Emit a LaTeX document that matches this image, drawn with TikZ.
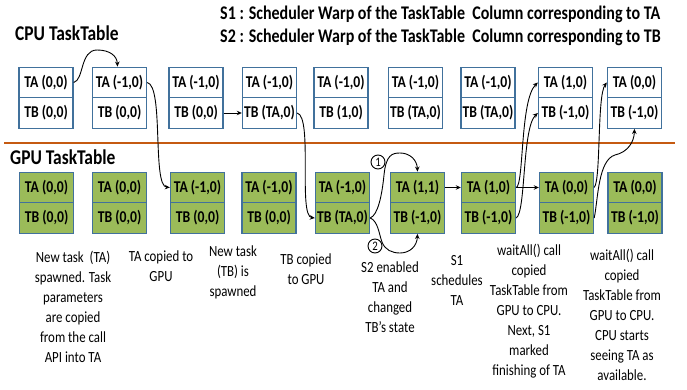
\documentclass[tikz,border=0pt]{standalone}
\usepackage{fontspec}
\setmainfont{Carlito}[FakeStretch=0.83]
\usetikzlibrary{arrows.meta,calc}
\definecolor{boxblue}{RGB}{65,113,156}
\definecolor{gpugreen}{RGB}{155,187,89}
\definecolor{sepbrown}{RGB}{197,90,17}
\newcommand{\tbox}[6]{%
  \node[#2] (#1a) at (#3,#4) {#5};
  \node[#2] (#1b) at (#3,#4+30.5) {#6};}
\begin{document}
\begin{tikzpicture}[x=1pt,y=-1pt,
  cell/.style={draw=boxblue, line width=1.4pt, minimum width=54pt, minimum height=30.5pt, inner sep=0pt,
    font=\bfseries\fontsize{16.5}{16.5}\selectfont},
  gcell/.style={cell, fill=gpugreen},
  conn/.style={line width=0.9pt, -{Stealth[length=5pt,width=4.5pt]}},
  head/.style={font=\bfseries\fontsize{21}{21}\selectfont, inner sep=0pt},
  legend/.style={font=\bfseries\fontsize{19.3}{19.3}\selectfont, inner sep=0pt, anchor=west},
  captext/.style={align=center, inner sep=0pt, font=\fontsize{15.5}{20}\selectfont},
  num/.style={circle, draw, line width=0.9pt, inner sep=0pt, minimum size=14pt, fill=white,
    font=\fontsize{13}{13}\selectfont}]
\useasboundingbox[fill=white] (0,0) rectangle (687,390);

% headers
\node[head, anchor=west] (cpuh) at (15,33) {CPU TaskTable};
\node[head, anchor=west] (gpuh) at (10,157) {GPU TaskTable};
\node[legend] (s1) at (220,14) {S1 : Scheduler Warp of the TaskTable\ \ Column corresponding to TA};
\node[legend] (s2) at (220,37) {S2 : Scheduler Warp of the TaskTable\ \ Column corresponding to TB};

% separator
\coordinate (sepL) at (4,143);
\coordinate (sepR) at (675,143);
\draw[sepbrown, line width=1.4pt] (sepL) -- (sepR);

% CPU tables
\tbox{c1}{cell}{46}{82.5}{TA (0,0)}{TB (0,0)}
\tbox{c2}{cell}{119.5}{82.5}{TA (-1,0)}{TB (0,0)}
\tbox{c3}{cell}{196}{82.5}{TA (-1,0)}{TB (0,0)}
\tbox{c4}{cell}{269.5}{82.5}{TA (-1,0)}{TB (TA,0)}
\tbox{c5}{cell}{341}{82.5}{TA (-1,0)}{TB (1,0)}
\tbox{c6}{cell}{415.5}{82.5}{TA (-1,0)}{TB (TA,0)}
\tbox{c7}{cell}{488}{82.5}{TA (-1,0)}{TB (TA,0)}
\tbox{c8}{cell}{565.5}{82.5}{TA (1,0)}{TB (-1,0)}
\tbox{c9}{cell}{634.5}{82.5}{TA (0,0)}{TB (-1,0)}

% GPU tables
\tbox{g1}{gcell}{46.5}{187.5}{TA (0,0)}{TB (0,0)}
\tbox{g2}{gcell}{119.5}{187.5}{TA (0,0)}{TB (0,0)}
\tbox{g3}{gcell}{197.5}{187.5}{TA (-1,0)}{TB (0,0)}
\tbox{g4}{gcell}{269}{187.5}{TA (-1,0)}{TB (0,0)}
\tbox{g5}{gcell}{342.5}{187.5}{TA (-1,0)}{TB (TA,0)}
\tbox{g6}{gcell}{417.5}{187.5}{TA (1,1)}{TB (-1,0)}
\tbox{g7}{gcell}{488.5}{187.5}{TA (1,0)}{TB (-1,0)}
\tbox{g8}{gcell}{566.5}{187.5}{TA (0,0)}{TB (-1,0)}
\tbox{g9}{gcell}{635}{187.5}{TA (0,0)}{TB (-1,0)}

% connectors
\draw[conn] (c1a.east) .. controls (84,80) and (80,50) .. (97,50) .. controls (110,50) and (117,56) .. ($(c2a.north)+(-2,0)$);
\draw[conn] (c2a.east) .. controls (164,86) and (152,186) .. (g3a.west);
\draw[conn] (c3b.east) -- (c4b.west);
\draw[conn] (c4b.east) .. controls (313,117) and (298,216) .. (g5b.west);
\draw[conn] (g5b.east) .. controls (378,215) and (382,195) .. (384,175) .. controls (386,155) and (392,153) .. (400,153) .. controls (410,153) and (417,160) .. (g6a.north);
\draw[conn] (g5b.east) .. controls (378,221) and (379,234) .. (382,242) .. controls (385,250) and (392,253) .. (400,253) .. controls (410,253) and (417,246) .. (g6b.south);
\draw[conn] (g6a.east) -- (g7a.west);
\draw[conn] (g7a.east) -- (g8a.west);
\draw[conn] (g7a.east) .. controls (524,185) and (520,100) .. (c8a.west);
\draw[conn] (g7b.east) .. controls (526,212) and (522,128) .. (c8b.west);
\draw[conn] (g8a.east) .. controls (601,180) and (597,96) .. (c9a.west);
\draw[conn] (g8b.east) .. controls (598,200) and (598,160) .. (615,155) .. controls (628,152) and (634,142) .. (c9b.south);

% numbered markers
\node[num] (n1) at (378,162) {1};
\node[num] (n2) at (375,246) {2};

% captions
\node[captext] (t1) at (73,307) {New task\ \ (TA)\\spawned. Task\\parameters\\are copied\\from the call\\API into TA};
\node[captext] (t2) at (161,266.5) {TA copied to\\GPU};
\node[captext] (t3) at (233,272) {New task\\(TB) is\\spawned};
\node[captext] (t4) at (306,269) {TB copied\\to GPU};
\node[captext] (t5) at (390,297) {S2 enabled\\TA and\\changed\\TB’s state};
\node[captext] (t6) at (457,280.5) {S1\\schedules\\TA};
\node[captext] (t7) at (529,311) {waitAll() call\\copied\\TaskTable from\\GPU to CPU.\\Next, S1\\marked\\finishing of TA};
\node[captext] (t8) at (622,315) {waitAll() call\\copied\\TaskTable from\\GPU to CPU.\\CPU starts\\seeing TA as\\available.};
\end{tikzpicture}
\end{document}
